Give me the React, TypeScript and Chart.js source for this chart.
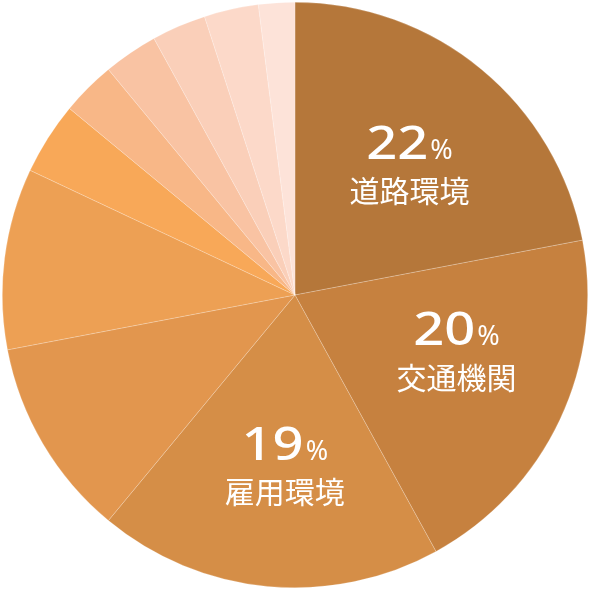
import React, { useRef, useEffect } from "react";
import { Chart, registerables } from "chart.js";
Chart.register(...registerables);

const categories = ["道路環境", "交通機関", "雇用環境", "", "", "", "", "", "", "", ""];
const shares = [22, 20, 19, 11, 10, 4, 3, 3, 3, 3, 2];
const sliceColors = [
  "#B5773A", "#C6813F", "#D58E47", "#E2964E", "#EDA054", "#F8A858",
  "#F8B787", "#F9C3A3", "#FACFB9", "#FCD9C9", "#FDE3D9",
];

// small per-label nudges so text sits like the original
const labelNudge: Record<number, [number, number]> = {
  0: [5, 3],
  1: [6, -16],
  2: [6, 1],
};

const labelPlugin = {
  id: "sliceLabels",
  afterDatasetsDraw(chart: any) {
    const ctx = chart.ctx;
    const meta = chart.getDatasetMeta(0);
    meta.data.forEach((arc: any, i: number) => {
      if (!categories[i]) return;
      const { x, y, startAngle, endAngle, outerRadius } = arc.getProps(
        ["x", "y", "startAngle", "endAngle", "outerRadius"], true
      );
      const mid = (startAngle + endAngle) / 2;
      const r = outerRadius * 0.587;
      const nudge = labelNudge[i] || [0, 0];
      const cx = x + Math.cos(mid) * r + nudge[0];
      const cy = y + Math.sin(mid) * r + nudge[1];

      ctx.save();
      ctx.fillStyle = "#ffffff";
      const num = String(shares[i]);
      const numFont = "500 46px 'Noto Sans', sans-serif";
      const pctFont = "400 27px 'Noto Sans', sans-serif";
      ctx.font = numFont;
      const sx = 1.18;
      const numW = ctx.measureText(num).width * sx;
      ctx.font = pctFont;
      const pctW = ctx.measureText("%").width;
      const gap = 2;
      const left = cx - (numW + gap + pctW) / 2;
      const base = cy - 7;

      ctx.textBaseline = "alphabetic";
      ctx.textAlign = "left";
      ctx.save();
      ctx.translate(left, base);
      ctx.scale(sx, 1);
      ctx.font = numFont;
      ctx.fillText(num, 0, 0);
      ctx.restore();
      ctx.font = pctFont;
      ctx.fillText("%", left + numW + gap, base);

      ctx.font = "400 30px 'Noto Sans CJK JP', sans-serif";
      ctx.textAlign = "center";
      ctx.textBaseline = "middle";
      ctx.fillText(categories[i], cx, cy + 25);
      ctx.restore();
    });
  },
};

const App: React.FC = () => {
  const chartRef = useRef<HTMLCanvasElement | null>(null);
  const chartInstanceRef = useRef<Chart<"pie", number[], string> | null>(null);

  useEffect(() => {
    if (!chartRef.current) return;
    chartInstanceRef.current = new Chart(chartRef.current, {
      type: "pie",
      data: {
        labels: categories,
        datasets: [
          {
            data: shares,
            backgroundColor: sliceColors,
            borderColor: "rgba(255,255,255,0.35)",
            borderWidth: 0.6,
          },
        ],
      },
      options: {
        animation: false,
        responsive: true,
        maintainAspectRatio: false,
        layout: { padding: { left: 2, top: 2, right: 4, bottom: 4 } },
        plugins: {
          legend: { display: false },
          tooltip: { enabled: false },
        },
      },
      plugins: [labelPlugin],
    });

    return () => {
      if (chartInstanceRef.current) {
        chartInstanceRef.current.destroy();
      }
    };
  }, []);

  return (
    <div style={{ position: "absolute", left: 0, top: 0, width: 592, height: 592, background: "#fff" }}>
      <canvas ref={chartRef} />
    </div>
  );
};

export default App;
